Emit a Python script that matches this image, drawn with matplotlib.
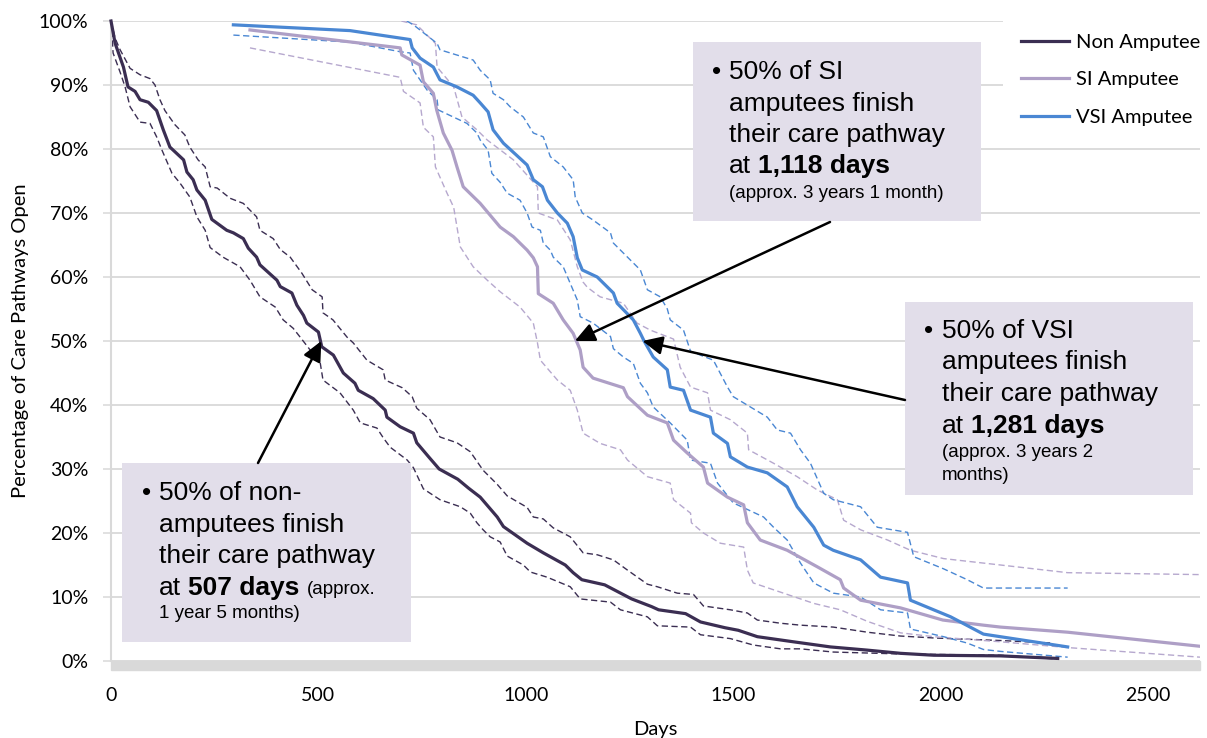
import matplotlib
matplotlib.use("Agg")
import matplotlib.pyplot as plt
from matplotlib.patches import Rectangle

W, H = 1207, 738

series_names = ["Non Amputee", "SI Amputee", "VSI Amputee"]

# Kaplan-Meier estimates: days since injury vs % of care pathways still open
non_days = [0, 10, 30, 41, 58, 70, 90, 110, 126, 142, 175, 183, 198, 207, 227, 243, 279, 295,
            319, 331, 351, 359, 400, 408, 436, 448, 464, 472, 500, 508, 536, 560, 588, 596,
            632, 661, 665, 697, 729, 737, 767, 791, 836, 862, 890, 931, 946, 1003, 1042, 1095,
            1114, 1135, 1190, 1255, 1303, 1320, 1385, 1421, 1480, 1512, 1558, 1645, 1734,
            1823, 1903, 1983, 2144, 2282]
non_pct = [100, 96.5, 92.8, 89.7, 89, 87.7, 87.3, 86, 83, 80.3, 78.3, 76.4, 75.2, 73.6, 72, 69,
           67.3, 66.9, 66, 64.5, 63.1, 61.9, 59.5, 58.5, 57.5, 55.6, 54, 52.8, 51.4, 49.1, 47.8,
           45, 43.4, 42.3, 41, 39.2, 38.1, 36.6, 35.6, 34.1, 31.8, 30, 28.4, 27, 25.6, 22.5, 21,
           18.4, 16.9, 15, 13.8, 12.7, 11.9, 9.7, 8.5, 8, 7.4, 6.1, 5.2, 4.8, 3.8, 3, 2.2, 1.7,
           1.2, 0.9, 0.8, 0.4]

non_hi_days = [0, 10, 22, 46, 70, 94, 106, 118, 130, 154, 178, 190, 210, 227, 239, 256, 287,
               319, 351, 359, 391, 408, 432, 460, 485, 509, 511, 535, 569, 584, 617, 656, 661,
               702, 726, 737, 769, 793, 834, 866, 897, 931, 955, 1003, 1018, 1042, 1066, 1107,
               1138, 1172, 1211, 1245, 1293, 1317, 1365, 1404, 1428, 1493, 1534, 1558, 1614,
               1662, 1741, 1823, 1903, 1983, 2144, 2272]
non_hi_pct = [100, 97.3, 95.5, 92.6, 91.6, 91, 90, 87.7, 86, 83.8, 82.2, 80.3, 78.3, 77.2, 74.1,
              73.9, 72.3, 71.5, 69.4, 67.3, 66, 64.3, 63.1, 60.6, 58, 56.9, 54.4, 53.3, 50.6,
              49.7, 47, 45.5, 43.9, 42.7, 41.3, 39.5, 37.7, 35, 34.1, 32.7, 29.8, 27.6, 25.8, 24,
              22.5, 22.2, 20.8, 19.4, 16.9, 16.6, 15.8, 14.2, 12, 11.6, 10.6, 10.4, 8.6, 8, 7.5,
              6.4, 5.9, 5.6, 5.3, 4.5, 3.9, 3.6, 3.2, 2.8]

non_lo_days = [0, 2, 5, 22, 34, 46, 70, 94, 110, 123, 147, 166, 190, 207, 227, 239, 270, 311,
               335, 359, 396, 415, 439, 456, 480, 504, 511, 552, 584, 601, 641, 656, 673, 714,
               729, 753, 793, 842, 866, 882, 897, 914, 938, 955, 994, 1011, 1051, 1107, 1131,
               1204, 1228, 1293, 1317, 1397, 1421, 1493, 1548, 1614, 1662, 1741, 1903, 2144, 2282]
non_lo_pct = [100, 98.6, 95, 92, 89.7, 86.6, 84.2, 84, 81.9, 79.8, 76.2, 74.7, 72.5, 69.4, 67.3,
              64.6, 63.1, 61.6, 59.5, 56.9, 55.3, 53.3, 52, 50.6, 48.6, 46.7, 43.9, 41.9, 39.2,
              37.2, 36.4, 34.9, 33.4, 31.4, 30.2, 26.9, 25.2, 24.1, 23.1, 21.6, 20.5, 19.4, 18.6,
              16.4, 15, 13.9, 13.1, 11.6, 9.7, 9.2, 8, 6.9, 5.5, 5.3, 4.1, 3.5, 2.5, 1.9, 1.9,
              1.4, 1.1, 0.9, 0.3]

si_days = [335, 697, 701, 745, 753, 777, 785, 801, 822, 834, 849, 890, 938, 970, 1003, 1018,
           1028, 1030, 1066, 1090, 1114, 1131, 1138, 1162, 1235, 1245, 1293, 1341, 1356, 1389,
           1428, 1438, 1486, 1525, 1534, 1565, 1630, 1703, 1758, 1766, 1807, 1903, 2005, 2103,
           2144, 2306, 2625]
si_pct = [98.6, 95.8, 94.7, 93.1, 90.5, 88.7, 86.1, 82.5, 79.8, 77.2, 74.1, 71.5, 67.8, 66.3,
          64.2, 63, 61.6, 57.4, 55.9, 53.3, 51.2, 48.6, 45.9, 44.2, 42.7, 41.3, 38.4, 37.2, 34.5,
          32.5, 30.3, 27.8, 25.6, 24.4, 21.6, 18.9, 17.3, 14.7, 12.7, 11.4, 9.5, 8.3, 6.4, 5.6,
          5.3, 4.5, 2.3]

si_hi_days = [700, 737, 782, 786, 826, 846, 882, 907, 970, 1028, 1030, 1076, 1107, 1124, 1138,
              1148, 1179, 1235, 1268, 1300, 1356, 1372, 1397, 1438, 1445, 1493, 1534, 1537,
              1597, 1654, 1703, 1751, 1766, 1807, 1872, 1927, 2007, 2144, 2306, 2625]
si_hi_pct = [100, 99.4, 96.5, 92.8, 89.7, 85, 83, 81.4, 78.3, 74.1, 70, 68.9, 65.8, 61.6, 59.2,
             58.4, 56.9, 55.9, 52.8, 51.7, 50.3, 45.9, 42.8, 41.9, 39.2, 37.7, 35.6, 33, 30.9,
             28.8, 26.7, 25.2, 22, 20.5, 18.9, 17.3, 16, 15, 13.8, 13.5]

si_lo_days = [335, 697, 705, 745, 753, 777, 782, 810, 826, 842, 873, 907, 938, 986, 1018, 1028,
              1035, 1076, 1107, 1124, 1138, 1179, 1228, 1245, 1293, 1348, 1356, 1397, 1399,
              1428, 1469, 1525, 1534, 1548, 1621, 1694, 1758, 1823, 1903, 1983, 2144, 2306, 2625]
si_lo_pct = [95.8, 91.2, 89, 87.2, 83.4, 81.9, 77.2, 73.1, 70.9, 64.7, 61.6, 59.5, 57.7, 55.3,
             52.8, 49.7, 47, 43.9, 42.3, 39.2, 35.6, 34, 33, 31.4, 28.8, 27.8, 25.2, 23.1, 21.6,
             20, 18.4, 17.8, 14.2, 12.2, 10.6, 9, 8, 6.2, 4.4, 3.8, 3.0, 2.1, 0.6]

vsi_days = [295, 576, 721, 726, 745, 777, 793, 834, 873, 890, 909, 921, 946, 978, 1003, 1018,
            1040, 1052, 1076, 1100, 1114, 1124, 1136, 1172, 1211, 1220, 1259, 1276, 1285, 1307,
            1341, 1348, 1380, 1397, 1445, 1452, 1486, 1493, 1534, 1582, 1630, 1654, 1694, 1718,
            1741, 1807, 1855, 1920, 1927, 2024, 2103, 2306]
vsi_pct = [99.4, 98.5, 97.1, 95.8, 94.2, 92.8, 90.8, 89.7, 88.4, 87.2, 85.8, 83, 80.9, 79, 77.5,
           75.2, 74.1, 72, 70, 68.4, 66.3, 63, 61.1, 60, 57.5, 55.9, 53.3, 51.2, 50, 47.5, 45.5,
           42.8, 42.3, 39.2, 38.1, 35.6, 34, 31.9, 30.3, 29.4, 27.2, 24.1, 20.9, 18.1, 17.3,
           15.8, 13.1, 12.2, 9.5, 6.9, 4.2, 2.2]

vsi_hi_days = [713, 729, 786, 793, 873, 890, 914, 921, 946, 962, 994, 1018, 1042, 1059, 1090,
               1114, 1119, 1136, 1162, 1204, 1211, 1245, 1276, 1293, 1324, 1341, 1348, 1380,
               1397, 1452, 1486, 1500, 1582, 1606, 1638, 1662, 1686, 1718, 1741, 1807, 1847,
               1920, 1935, 2007, 2064, 2103, 2306]
vsi_hi_pct = [100, 99.4, 96.5, 95.5, 93.9, 92.3, 90.8, 88.7, 87.7, 86.6, 85, 82.5, 81.9, 78.8,
              77.2, 75.2, 72.5, 70, 68.9, 66.9, 65.3, 63.1, 61.1, 58, 56.9, 55, 53.3, 51.7, 48.4,
              47, 42.8, 41.3, 38.1, 36.1, 35.6, 33, 30.9, 26.2, 25.2, 24.1, 20.9, 20.1, 16.3,
              14.4, 12.7, 11.4, 11.4]

vsi_lo_days = [295, 576, 697, 721, 729, 745, 762, 786, 789, 858, 882, 890, 909, 918, 938, 955,
               986, 1003, 1015, 1035, 1042, 1059, 1066, 1090, 1107, 1124, 1131, 1162, 1204, 1211,
               1235, 1259, 1276, 1293, 1307, 1348, 1389, 1397, 1445, 1462, 1500, 1573, 1597,
               1630, 1662, 1694, 1741, 1807, 1855, 1920, 1927, 2007, 2064, 2103, 2144, 2306]
vsi_lo_pct = [97.8, 96.7, 95.2, 95, 92.3, 90.8, 89.2, 87.7, 86.1, 84, 82.5, 81.4, 79.8, 76.2,
              74.8, 73.1, 72, 70, 67.8, 67.3, 65.3, 64.2, 63.1, 61.6, 59, 56.4, 53.8, 52.8, 50.7,
              48.8, 47.5, 46.5, 43.4, 41.9, 39.7, 37.2, 34.5, 31.4, 30.9, 27.8, 24.7, 22.5, 20.9,
              18.9, 15.3, 12.2, 10.6, 10, 8, 7.5, 5, 3.8, 2.8, 1.8, 1.5, 0.6]

# median times (days) called out in the boxes
median_days = [507, 1118, 1281]

NON_C = "#3B2E52"
SI_C = "#AE9FC6"
SI_CI = "#B6A8CE"
VSI_C = "#4A87D3"
GRID_C = "#D9D9D9"
BOX_C = "#E2DEEA"
TXT_FONT = "Liberation Sans"
AX_FONT = "Lato"


def fig_xy(x, y):
    """pixel position (origin top-left) -> figure fraction"""
    return x / W, 1 - y / H


fig = plt.figure(figsize=(W / 100, H / 100), dpi=100)
ax = fig.add_axes([111 / W, 77 / H, 1089 / W, 640 / H])

dash = (0, (4.5, 2.5))
ax.plot(non_hi_days, non_hi_pct, color=NON_C, lw=1.0, ls=dash, zorder=2, clip_on=False)
ax.plot(non_lo_days, non_lo_pct, color=NON_C, lw=1.0, ls=dash, zorder=2, clip_on=False)
ax.plot(si_hi_days, si_hi_pct, color=SI_CI, lw=1.0, ls=dash, zorder=2)
ax.plot(si_lo_days, si_lo_pct, color=SI_CI, lw=1.0, ls=dash, zorder=2)
ax.plot(vsi_hi_days, vsi_hi_pct, color=VSI_C, lw=1.0, ls=dash, zorder=2)
ax.plot(vsi_lo_days, vsi_lo_pct, color=VSI_C, lw=1.0, ls=dash, zorder=2)

h_non, = ax.plot(non_days, non_pct, color=NON_C, lw=2.3, zorder=3, clip_on=False)
h_si, = ax.plot(si_days, si_pct, color=SI_C, lw=2.3, zorder=3)
h_vsi, = ax.plot(vsi_days, vsi_pct, color=VSI_C, lw=2.3, zorder=3)

ax.set_xlim(0, 2625)
ax.set_ylim(0, 100)
ax.set_xticks([0, 500, 1000, 1500, 2000, 2500])
ax.set_yticks(range(0, 101, 10))
ax.set_yticklabels([f"{v}%" for v in range(0, 101, 10)])
ax.tick_params(axis="x", length=0, pad=19, labelsize=14)
ax.tick_params(axis="y", length=5.8, width=1.1, color=GRID_C, pad=10.5, labelsize=14)
for lab in ax.get_xticklabels() + ax.get_yticklabels():
    lab.set_fontfamily(AX_FONT)

ax.yaxis.grid(True, color=GRID_C, lw=1.3)
ax.set_axisbelow(True)
for s in ("top", "right", "bottom"):
    ax.spines[s].set_visible(False)
ax.spines["left"].set_color(GRID_C)
ax.spines["left"].set_linewidth(1.5)
# grey floor under the plot area
ax.add_patch(Rectangle((0, -9 / 640), 1, 9 / 640, transform=ax.transAxes,
                       color=GRID_C, clip_on=False, zorder=1))

fig.text(*fig_xy(21, 341), "Percentage of Care Pathways Open", rotation=90,
         ha="center", va="center", fontsize=14.5, family=AX_FONT)
fig.text(*fig_xy(655, 729), "Days", ha="center", va="center", fontsize=14.5, family=AX_FONT)

leg = ax.legend([h_non, h_si, h_vsi], series_names, loc="upper left",
                bbox_to_anchor=fig_xy(1003, 16), bbox_transform=fig.transFigure,
                frameon=True, facecolor="white", edgecolor="none", framealpha=1,
                fancybox=False, borderaxespad=0, borderpad=0.9, handlelength=2.4,
                handletextpad=0.3, labelspacing=1.0, prop={"family": AX_FONT, "size": 14.5})
leg.set_zorder(6)

# call-out boxes
BIG, SMALL = 19, 13.5
boxes = [
    dict(rect=(122, 463, 411, 642), bullet=142, left=159, base=[500, 532, 563, 595, 618],
         lines=["50% of non-", "amputees finish", "their care pathway"],
         bold=f"{median_days[0]} days", tail="(approx.", extra=["1 year 5 months)"],
         tip=(median_days[0], 50), start=(258, 463)),
    dict(rect=(693, 42, 981, 221), bullet=712, left=729, base=[79, 111, 142, 173, 198],
         lines=["50% of SI", "amputees finish", "their care pathway"],
         bold=f"{median_days[1]:,} days", tail=None, extra=["(approx. 3 years 1 month)"],
         tip=(median_days[1], 50), start=(830, 222)),
    dict(rect=(905, 302, 1193, 495), bullet=924, left=942, base=[338, 369, 401, 433, 457, 480],
         lines=["50% of VSI", "amputees finish", "their care pathway"],
         bold=f"{median_days[2]:,} days", tail=None,
         extra=["(approx. 3 years 2", "months)"],
         tip=(median_days[2], 50), start=(905, 400)),
]

for b in boxes:
    x0, y0, x1, y1 = b["rect"]
    ax.add_patch(Rectangle(fig_xy(x0, y1), (x1 - x0) / W, (y1 - y0) / H,
                           transform=fig.transFigure, facecolor=BOX_C, edgecolor="none",
                           clip_on=False, zorder=5))
    ax.annotate("", xy=b["tip"], xycoords="data", xytext=fig_xy(*b["start"]),
                textcoords="figure fraction", zorder=7,
                arrowprops=dict(arrowstyle="-|>,head_length=0.6,head_width=0.28",
                                mutation_scale=20, color="black", lw=1.8,
                                shrinkA=0, shrinkB=0))
    txt = dict(transform=fig.transFigure, va="baseline", ha="left", family=TXT_FONT,
               zorder=8, clip_on=False)
    ax.text(*fig_xy(b["bullet"], b["base"][0]), "\u2022", fontsize=BIG, **txt)
    for line, yb in zip(b["lines"], b["base"]):
        ax.text(*fig_xy(b["left"], yb), line, fontsize=BIG, **txt)
    t_at = ax.text(*fig_xy(b["left"], b["base"][3]), "at", fontsize=BIG, **txt)
    t_b = ax.annotate(b["bold"], xy=(1, 0), xycoords=t_at, xytext=(0.278 * BIG, 0),
                      textcoords="offset points", va="bottom", ha="left", fontsize=BIG,
                      fontweight="bold", family=TXT_FONT, zorder=8)
    if b["tail"]:
        ax.annotate(b["tail"], xy=(1, 0), xycoords=t_b, xytext=(0.278 * BIG, 1.1),
                    textcoords="offset points", va="bottom", ha="left", fontsize=SMALL,
                    family=TXT_FONT, zorder=8)
    for line, yb in zip(b["extra"], b["base"][4:]):
        ax.text(*fig_xy(b["left"], yb), line, fontsize=SMALL, **txt)

fig.savefig("out.png", dpi=100)
